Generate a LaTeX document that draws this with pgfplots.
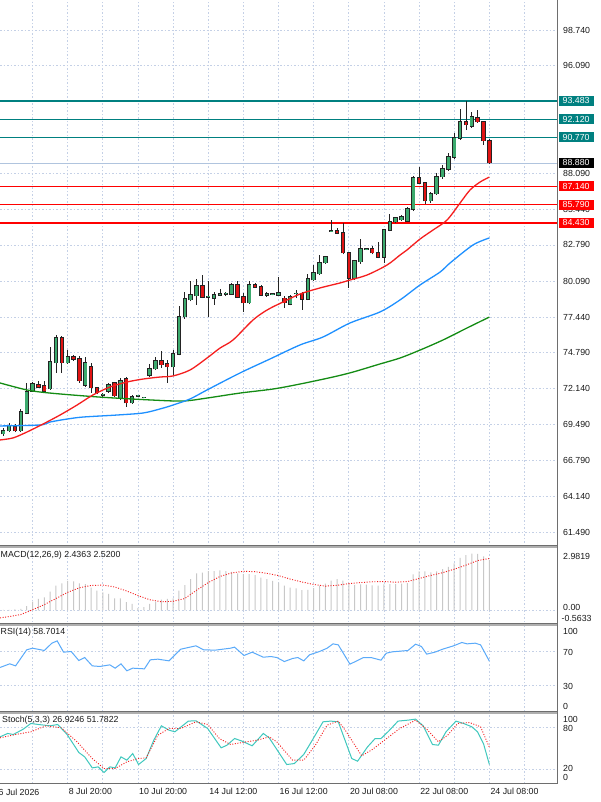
\documentclass[border=0pt]{standalone}
\usepackage{fontspec}
\setmainfont{Liberation Sans}
\usepackage{pgfplots}
\usepackage{pgfplotstable}
\pgfplotsset{compat=1.18}

\definecolor{gridc}{RGB}{196,208,230}
\definecolor{lvlteal}{RGB}{0,128,128}
\definecolor{lvlred}{RGB}{255,0,0}
\definecolor{curline}{RGB}{176,196,222}
\definecolor{candleup}{RGB}{60,170,110}
\definecolor{candledn}{RGB}{225,20,20}
\definecolor{wick}{RGB}{35,35,35}
\definecolor{mared}{RGB}{245,30,30}
\definecolor{mablue}{RGB}{30,144,255}
\definecolor{magreen}{RGB}{20,140,20}
\definecolor{histc}{RGB}{200,200,200}
\definecolor{rsic}{RGB}{90,170,250}
\definecolor{stochc}{RGB}{64,200,190}
\definecolor{framec}{RGB}{110,110,110}
\definecolor{txt}{RGB}{25,25,25}

\newcommand\lab{\fontsize{8.8}{10}\selectfont}

% up (bullish) candles: i, body low, body high, low, high
\pgfplotstableread{
i blo bhi l h
1 68.77 68.99 68.62 69.21
2 68.99 69.36 68.91 69.58
4 68.99 70.40 68.92 70.62
5 70.32 71.88 70.25 72.55
6 71.95 72.47 71.90 72.62
9 72.11 74.11 72.03 75.22
10 74.04 75.89 73.29 76.11
12 74.04 74.48 73.96 74.97
15 72.40 74.04 72.25 74.48
18 71.64 71.70 71.50 71.80
19 71.95 72.40 71.81 72.55
21 71.44 72.70 71.29 72.92
23 71.07 71.51 71.00 71.66
24 71.57 71.63 71.55 71.66
25 71.44 71.48 71.40 71.50
26 73.14 73.59 72.99 73.96
27 73.59 74.18 73.50 74.48
30 73.74 74.70 73.14 75.00
31 74.70 77.45 74.60 78.26
32 77.45 78.78 77.30 79.30
33 78.71 79.08 78.60 80.12
34 79.01 79.75 78.34 80.27
36 78.92 78.97 77.45 80.12
37 78.85 79.08 78.34 79.30
38 79.08 79.15 79.00 79.50
39 79.15 79.19 79.00 79.30
40 79.15 79.82 79.10 79.97
43 78.49 79.82 78.40 80.12
46 79.08 79.15 78.93 79.30
47 79.12 79.17 79.05 79.25
48 79.08 79.23 79.00 80.42
50 78.41 78.93 78.30 79.08
51 79.16 79.20 78.85 79.45
53 78.78 80.27 78.70 80.64
54 80.20 80.71 80.10 81.31
55 80.64 81.46 80.55 82.05
56 81.46 81.90 81.40 82.00
57 83.81 83.86 83.76 84.65
61 80.34 81.60 80.20 81.70
62 81.53 82.49 81.40 83.24
63 82.48 82.52 82.40 82.60
66 81.90 83.90 81.46 84.00
67 83.90 84.50 83.80 85.09
68 84.50 84.79 84.40 84.90
69 84.65 84.87 84.55 85.00
70 84.57 85.46 84.50 85.60
71 85.46 87.76 85.30 87.91
74 86.06 86.58 85.90 86.70
75 86.58 87.84 86.50 88.13
76 87.84 88.43 87.70 88.73
77 88.43 89.32 88.30 89.62
78 89.32 90.73 89.20 91.10
79 90.73 91.92 90.60 92.88
81 91.62 92.29 91.50 92.66
}\upc

% down (bearish) candles
\pgfplotstableread{
i blo bhi l h
3 68.99 69.29 68.91 69.51
7 72.25 72.40 72.18 72.70
8 71.95 72.33 71.88 72.70
11 74.04 75.89 73.29 76.04
13 74.33 74.48 74.20 74.60
14 72.70 74.33 72.55 74.55
16 72.18 73.74 71.81 74.04
17 71.81 72.18 71.70 72.25
20 71.59 72.55 71.50 72.62
22 71.07 72.85 70.77 72.99
28 73.89 74.18 73.66 74.93
29 73.74 73.96 72.55 74.26
35 78.93 79.75 78.85 80.57
41 78.93 79.82 78.85 80.12
42 78.49 78.93 77.82 79.23
44 79.67 79.82 79.60 79.97
45 79.08 79.67 79.00 79.82
49 78.49 78.85 78.12 79.01
52 78.78 79.15 77.97 79.30
58 83.68 83.83 83.60 84.05
59 82.20 83.68 82.10 84.42
60 80.34 82.20 79.60 82.30
64 82.20 82.49 82.10 82.70
65 81.90 82.20 81.80 83.01
72 87.39 87.76 87.30 88.58
73 86.06 87.39 85.83 87.50
80 91.70 91.92 91.32 93.483
82 91.92 92.21 91.85 92.81
83 90.51 91.92 90.21 92.00
84 88.88 90.51 88.80 90.66
}\dnc

\pgfplotstableread{
i p
0.44 68.32
2.66 68.47
5.05 68.91
7.78 69.50
10.69 70.17
13.59 70.91
16.32 71.66
19.22 72.25
22.13 72.62
24.86 72.84
27.76 72.99
29.98 73.07
32.88 73.51
35.79 74.40
38.01 75.14
40.23 75.74
43.64 77.22
46.03 77.96
48.77 78.56
51.67 79.15
55.08 79.60
58.50 79.97
60.20 80.19
63.11 80.56
66.52 81.30
68.74 82.04
69.94 82.42
72.16 83.23
74.38 83.90
76.77 84.64
78.99 85.90
80.70 86.87
82.41 87.46
84.00 87.83
}\mafast

\pgfplotstableread{
i p
0.44 69.36
7.27 69.43
8.98 69.65
11.88 69.87
14.61 70.02
20.42 70.17
24.86 70.32
27.76 70.62
29.98 70.91
32.88 71.36
35.79 72.03
41.42 73.29
46.55 74.33
51.67 75.37
55.59 75.96
60.20 77.00
65.33 77.82
68.74 78.71
72.16 79.82
75.58 80.78
77.28 81.45
81.21 82.79
84.00 83.31
}\mamid

\pgfplotstableread{
i p
0.44 72.55
5.05 72.03
8.98 71.80
17.52 71.50
26.05 71.29
31.69 71.21
35.79 71.43
41.42 71.80
47.06 72.10
51.67 72.47
57.30 72.99
60.72 73.36
65.33 73.96
68.74 74.40
72.16 74.99
76.09 75.74
80.19 76.63
84.00 77.44
}\maslow

\pgfplotstableread{
i v
1 0.03
2 0.03
3 0.05
4 0.08
5 0.21
6 0.43
7 0.56
8 0.63
9 0.91
10 1.20
11 1.31
12 1.44
13 1.41
14 1.31
15 1.28
16 1.11
17 0.96
18 0.87
19 0.80
20 0.59
21 0.59
22 0.40
23 0.32
24 0.11
25 0.16
26 0.32
27 0.43
28 0.52
29 0.56
30 0.59
31 0.96
32 1.23
33 1.52
34 1.80
35 1.83
36 1.91
37 1.91
38 1.95
39 1.91
40 1.87
41 1.80
42 1.76
43 1.76
44 1.71
45 1.59
46 1.52
47 1.44
48 1.35
49 1.20
50 1.11
51 1.07
52 0.98
53 1.00
54 1.08
55 1.20
56 1.30
57 1.45
58 1.52
59 1.45
60 1.28
61 1.24
62 1.26
63 1.25
64 1.22
65 1.20
66 1.26
67 1.28
68 1.28
69 1.30
70 1.32
71 1.75
72 1.90
73 1.90
74 1.85
75 1.90
76 2.00
77 2.12
78 2.28
79 2.55
80 2.68
81 2.76
82 2.74
83 2.62
84 2.44
}\macdh

\pgfplotstableread{
i s
0 -0.38
2 -0.30
4 -0.20
6 0.03
8 0.28
10 0.58
12 0.88
14 1.10
16 1.21
18 1.23
20 1.14
22 0.95
24 0.72
26 0.52
28 0.42
30 0.44
32 0.58
34 0.98
36 1.35
38 1.65
40 1.82
42 1.90
44 1.88
46 1.80
48 1.69
50 1.52
52 1.38
54 1.26
56 1.18
58 1.22
60 1.30
62 1.35
64 1.39
66 1.40
68 1.37
70 1.40
72 1.55
74 1.70
76 1.83
78 2.00
80 2.20
82 2.42
84 2.52
}\macds

\pgfplotstableread{
i r
0.44 51.2
2.1 55.5
3.1 53.1
5.0 72.0
6.0 73.9
8.0 71.2
9.3 79.8
10.2 82.5
11.3 69.2
12.6 70.0
13.9 59.4
14.9 62.9
16.2 53.1
17.5 52.4
19.2 54.3
20.1 50.4
21.1 55.5
22.1 47.3
23.1 50.4
25.1 49.6
26.1 60.2
27.4 61.0
29.3 59.0
31.3 72.7
32.6 74.7
33.9 76.7
35.2 72.0
37.2 71.6
39.8 73.9
40.5 75.1
42.1 65.3
43.5 69.2
45.4 63.3
46.7 64.1
47.7 62.9
49.0 58.2
50.4 61.8
51.3 62.9
52.3 59.0
53.3 66.1
55.0 70.0
56.3 73.9
57.3 79.0
58.2 77.8
60.2 55.1
62.5 62.9
63.8 62.9
65.5 59.8
66.4 68.0
67.4 69.6
70.1 71.2
71.4 78.6
72.4 75.9
73.3 66.9
74.7 69.2
76.0 72.7
77.9 76.7
79.3 80.6
80.2 79.0
81.6 79.8
82.5 77.8
84.0 58.7
}\rsi

\pgfplotstableread{
i k
0.44 66.9
1.75 71.8
2.7 70.3
4.4 78.0
5.7 86.3
7.0 84.8
9.0 82.9
10.3 84.8
11.9 70.3
13.9 44.2
14.9 37.9
16.2 21.9
17.2 23.4
18.2 15.2
19.2 23.4
20.1 21.9
21.1 37.9
22.1 33.1
23.1 42.7
24.1 26.8
25.4 35.5
26.7 62.1
28.0 82.9
29.3 76.6
30.3 74.2
32.6 89.7
33.9 90.2
35.9 79.0
38.2 51.0
39.2 54.8
40.5 64.5
41.8 60.6
43.5 53.9
45.4 71.8
46.4 65.5
49.4 26.8
50.7 28.2
52.3 41.3
53.6 59.7
55.6 88.7
56.9 89.7
58.2 88.7
60.5 35.5
61.5 31.6
63.2 52.4
64.5 64.5
65.5 64.5
66.8 75.2
68.4 89.7
70.1 91.1
71.4 92.6
72.7 82.9
74.3 55.8
75.3 54.8
76.6 74.2
78.3 89.7
79.6 86.3
81.0 81.5
82.0 74.0
83.0 57.0
84.0 26.92
}\stk

\pgfplotstableread{
i d
0.44 65.5
3.1 70.3
5.7 74.2
8.3 82.9
10.9 80.0
13.6 59.7
16.2 35.5
18.2 21.0
20.1 21.0
22.1 30.7
24.1 35.5
25.4 36.5
27.4 69.4
29.3 79.0
31.3 79.0
33.9 88.7
35.9 84.8
37.9 64.5
39.8 55.8
42.5 59.7
44.4 62.1
46.4 66.9
47.7 59.7
50.4 33.1
52.3 33.1
54.3 54.8
56.3 83.9
58.2 89.7
59.5 75.2
62.2 39.4
64.1 49.0
66.1 62.1
68.7 79.0
71.4 91.1
73.3 78.0
75.3 59.7
76.9 69.4
78.6 86.3
80.6 87.7
82.5 81.5
84.0 51.78
}\std

\pgfplotsset{
  mtpanel/.style={
    scale only axis, width=557pt, anchor=north west,
    xmin=0.44, xmax=95.55, clip=false,
    axis line style={draw=none},
    major tick length=0pt,
    xtick={6,12,...,90}, xmajorticks=false,
    xmajorgrids, ymajorgrids,
    major grid style={draw=gridc, line width=0.8pt, dash pattern=on 1.5pt off 2pt},
    yticklabel pos=right,
    tick label style={font=\lab, text=txt},
    yticklabel style={anchor=west, inner sep=0pt, xshift=6pt},
  },
  wicks/.style={draw=none, mark=none,
    error bars/.cd, y dir=plus, y explicit, error mark=none,
    error bar style={draw=wick, line width=0.8pt, solid}},
  bodyline/.style={draw=none, mark=none,
    error bars/.cd, y dir=plus, y explicit, error mark=none,
    error bar style={draw=wick, line width=4.4pt, solid}},
  bodyfill/.style={draw=none, mark=none,
    error bars/.cd, y dir=plus, y explicit, error mark=none,
    error bar style={draw=#1, line width=2.6pt, solid}},
}
\tikzset{
  valbox/.style={anchor=west, inner xsep=4pt, inner ysep=0pt,
    minimum height=10pt, text=white, font=\lab},
  plab/.style={anchor=west, inner sep=0pt, font=\lab, text=txt},
}

\begin{document}
\begin{tikzpicture}
\useasboundingbox (0pt,0pt) rectangle (600pt,-802pt);
\fill[white] (0pt,0pt) rectangle (600pt,-802pt);

% ---------------- main price panel ----------------
\begin{axis}[mtpanel, at={(0pt,0pt)}, height=546pt,
  ymin=60.45, ymax=100.97,
  ytick={61.49,64.14,66.79,69.49,72.14,74.79,77.44,80.09,82.79,85.44,88.09,90.79,93.44,96.09,98.74},
  yticklabels={61.490,64.140,66.790,69.490,72.140,74.790,77.440,80.090,82.790,85.440,88.090,,,96.090,98.740}]
  % horizontal levels
  \addplot[lvlteal, line width=1.4pt] coordinates {(0.44,93.483) (95.55,93.483)};
  \addplot[lvlteal, line width=1.4pt] coordinates {(0.44,92.12) (95.55,92.12)};
  \addplot[lvlteal, line width=1.4pt] coordinates {(0.44,90.77) (95.55,90.77)};
  \addplot[curline, line width=0.8pt] coordinates {(0.44,88.88) (95.55,88.88)};
  \addplot[lvlred, line width=1.4pt] coordinates {(0.44,87.14) (95.55,87.14)};
  \addplot[lvlred, line width=1.4pt] coordinates {(0.44,85.79) (95.55,85.79)};
  \addplot[lvlred, line width=1.4pt] coordinates {(0.44,84.43) (95.55,84.43)};
  % wicks
  \addplot[wicks] table[x=i, y=l, y error plus expr=\thisrow{h}-\thisrow{l}] {\upc};
  \addplot[wicks] table[x=i, y=l, y error plus expr=\thisrow{h}-\thisrow{l}] {\dnc};
  % body outlines
  \addplot[bodyline] table[x=i, y expr=\thisrow{blo}-0.04, y error plus expr=\thisrow{bhi}-\thisrow{blo}+0.08] {\upc};
  \addplot[bodyline] table[x=i, y expr=\thisrow{blo}-0.04, y error plus expr=\thisrow{bhi}-\thisrow{blo}+0.08] {\dnc};
  % body fills
  \addplot[bodyfill=candleup] table[x=i, y=blo, y error plus expr=\thisrow{bhi}-\thisrow{blo}] {\upc};
  \addplot[bodyfill=candledn] table[x=i, y=blo, y error plus expr=\thisrow{bhi}-\thisrow{blo}] {\dnc};
  % moving averages
  \addplot[magreen, line width=1.3pt, smooth] table[x=i, y=p] {\maslow};
  \addplot[mablue, line width=1.3pt, smooth] table[x=i, y=p] {\mamid};
  \addplot[mared, line width=1.3pt, smooth] table[x=i, y=p] {\mafast};
  \coordinate (L1) at (axis cs:95.55,93.483);
  \coordinate (L2) at (axis cs:95.55,92.12);
  \coordinate (L3) at (axis cs:95.55,90.77);
  \coordinate (L4) at (axis cs:95.55,88.88);
  \coordinate (L5) at (axis cs:95.55,87.14);
  \coordinate (L6) at (axis cs:95.55,85.79);
  \coordinate (L7) at (axis cs:95.55,84.43);
\end{axis}
\node[valbox, fill=lvlteal] at ([xshift=1.5pt]L1) {93.483};
\node[valbox, fill=lvlteal] at ([xshift=1.5pt]L2) {92.120};
\node[valbox, fill=lvlteal] at ([xshift=1.5pt]L3) {90.770};
\node[valbox, fill=black] at ([xshift=1.5pt]L4) {88.880};
\node[valbox, fill=lvlred] at ([xshift=1.5pt]L5) {87.140};
\node[valbox, fill=lvlred] at ([xshift=1.5pt]L6) {85.790};
\node[valbox, fill=lvlred] at ([xshift=1.5pt]L7) {84.430};

% ---------------- MACD panel ----------------
\begin{axis}[mtpanel, at={(0pt,-549pt)}, height=73pt,
  ymin=-0.5633, ymax=2.9819, ytick={0}, ymajorticks=false]
  \addplot[ybar, bar width=1pt, fill=histc, draw=none] table[x=i, y=v] {\macdh};
  \addplot[mared, line width=0.9pt, dash pattern=on 1pt off 1.6pt] table[x=i, y=s] {\macds};
\end{axis}

% ---------------- RSI panel ----------------
\begin{axis}[mtpanel, at={(0pt,-626pt)}, height=85pt,
  ymin=0, ymax=100, ytick={30,70}, ymajorticks=false]
  \addplot[rsic, line width=1pt] table[x=i, y=r] {\rsi};
\end{axis}

% ---------------- Stochastic panel ----------------
\begin{axis}[mtpanel, at={(0pt,-714pt)}, height=69pt,
  ymin=0, ymax=100, ytick={20,80}, ymajorticks=false,
  xmajorticks=true,
  xticklabels={,8 Jul 20:00,,10 Jul 20:00,,14 Jul 12:00,,16 Jul 12:00,,20 Jul 08:00,,22 Jul 08:00,,24 Jul 08:00,},
  xticklabel style={anchor=north west, inner sep=0pt, yshift=-5pt, xshift=1pt}]
  \addplot[stochc, line width=1pt] table[x=i, y=k] {\stk};
  \addplot[mared, line width=0.9pt, dash pattern=on 1pt off 1.6pt] table[x=i, y=d] {\std};
\end{axis}

% ---------------- frames ----------------
\fill[framec!55] (0pt,-545pt) rectangle (558pt,-548pt);
\draw[framec, line width=0.8pt] (0pt,-545.4pt) -- (558pt,-545.4pt);
\fill[framec!55] (0pt,-622.5pt) rectangle (558pt,-625.5pt);
\draw[framec, line width=0.8pt] (0pt,-622.9pt) -- (558pt,-622.9pt);
\fill[framec!55] (0pt,-711pt) rectangle (558pt,-714pt);
\draw[framec, line width=0.8pt] (0pt,-711.4pt) -- (558pt,-711.4pt);
\draw[framec, line width=1pt] (0pt,-783.5pt) -- (558pt,-783.5pt);
\draw[framec, line width=1pt] (557.5pt,0pt) -- (557.5pt,-784pt);

% ---------------- panel texts ----------------
\node[plab] at (0.5pt,-555.5pt) {MACD(12,26,9) 2.4363 2.5200};
\node[plab] at (563pt,-556.5pt) {2.9819};
\node[plab] at (563pt,-607.5pt) {0.00};
\node[plab] at (561.5pt,-618pt) {-0.5633};

\node[plab] at (0.5pt,-632.5pt) {RSI(14) 58.7014};
\node[plab] at (563pt,-631pt) {100};
\node[plab] at (563pt,-652pt) {70};
\node[plab] at (563pt,-686pt) {30};
\node[plab] at (563pt,-706pt) {0};

\node[plab] at (2pt,-720.5pt) {Stoch(5,3,3) 26.9246 51.7822};
\node[plab] at (563pt,-719.5pt) {100};
\node[plab] at (563pt,-728pt) {80};
\node[plab] at (563pt,-768.5pt) {20};
\node[plab] at (563pt,-777.5pt) {0};

\node[anchor=north west, inner sep=0pt, font=\lab, text=txt] at (-1.5pt,-788.5pt) {6 Jul 2026};
\end{tikzpicture}
\end{document}
